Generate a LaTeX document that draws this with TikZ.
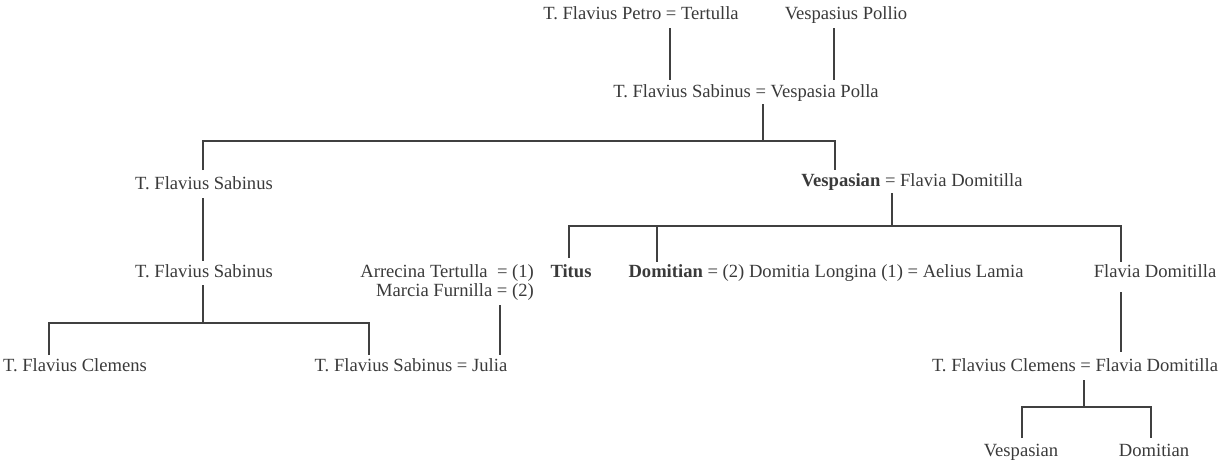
\documentclass[tikz,border=0pt]{standalone}
\usepackage{fontspec}
\setmainfont{Liberation Serif}
\definecolor{txt}{HTML}{3A3A3A}
\definecolor{ln}{HTML}{404040}
\begin{document}
\begin{tikzpicture}[x=1pt,y=-1pt,
  person/.style={inner sep=0pt,text=txt,font=\fontsize{18.6}{19}\selectfont,text height=0.68em,text depth=0.22em,yshift=-2.5pt},
  link/.style={draw=ln,line width=1.4pt},
  thin/.style={draw=ln,line width=1.1pt}]
\useasboundingbox (0,0) rectangle (1225,471);
% people
\node[person] (petro) at (641,15) {T. Flavius Petro = Tertulla};
\node[person] (pollio) at (846,15) {Vespasius Pollio};
\node[person] (sabP) at (746,93) {T. Flavius Sabinus = Vespasia Polla};
\node[person] (sab1) at (204,185) {T. Flavius Sabinus};
\node[person] (vesp) at (912,182) {\textbf{Vespasian} = Flavia Domitilla};
\node[person] (sab2) at (204,273) {T. Flavius Sabinus};
\node[person,anchor=east] (arre) at (534,273) {Arrecina Tertulla\ \ = (1)};
\node[person,anchor=east] (marc) at (534,292) {Marcia Furnilla = (2)};
\node[person] (titus) at (571,273) {\textbf{Titus}};
\node[person] (domi) at (826,273) {\textbf{Domitian} = (2) Domitia Longina (1) = Aelius Lamia};
\node[person] (flav) at (1155,273) {Flavia Domitilla};
\node[person] (clem1) at (75,367) {T. Flavius Clemens};
\node[person] (sab3) at (411,367) {T. Flavius Sabinus = Julia};
\node[person] (clem2) at (1075,367) {T. Flavius Clemens = Flavia Domitilla};
\node[person] (vesp2) at (1021,452) {Vespasian};
\node[person] (domi2) at (1154,452) {Domitian};
% junction coordinates
\coordinate (a1) at (670,28); \coordinate (a2) at (670,80);
\coordinate (b1) at (834,28); \coordinate (b2) at (834,80);
\coordinate (c1) at (763,104); \coordinate (c2) at (763,141);
\coordinate (hl) at (203,141); \coordinate (hr) at (835,141);
\coordinate (d1) at (203,170); \coordinate (d2) at (203,198); \coordinate (d3) at (203,261);
\coordinate (e1) at (835,170);
\coordinate (f1) at (892,193); \coordinate (f2) at (892,226);
\coordinate (gl) at (569,226); \coordinate (gm) at (657,226); \coordinate (gr) at (1121,226);
\coordinate (t1) at (569,258); \coordinate (t2) at (657,262); \coordinate (t3) at (1121,262);
\coordinate (m1) at (500,305); \coordinate (m2) at (500,355);
\coordinate (s1) at (203,285); \coordinate (s2) at (203,323);
\coordinate (sl) at (49,323); \coordinate (sr) at (369,323);
\coordinate (sl2) at (49,355); \coordinate (sr2) at (369,355);
\coordinate (p1) at (1121,292); \coordinate (p2) at (1121,352);
\coordinate (q1) at (1084,380); \coordinate (q2) at (1084,407);
\coordinate (ql) at (1022,407); \coordinate (qr) at (1151,407);
\coordinate (ql2) at (1022,438); \coordinate (qr2) at (1151,438);
% connectors
\draw[link] (a1) -- (a2);
\draw[link] (b1) -- (b2);
\draw[link] (c1) -- (c2);
\draw[link] (d1) -- (hl) -- (hr) -- (e1);
\draw[link] (d2) -- (d3);
\draw[link] (f1) -- (f2);
\draw[link] (t1) -- (gl) -- (gr) -- (t3);
\draw[link] (gm) -- (t2);
\draw[link] (m1) -- (m2);
\draw[link] (s1) -- (s2);
\draw[thin] (sl2) -- (sl) -- (sr) -- (sr2);
\draw[link] (p1) -- (p2);
\draw[link] (q1) -- (q2);
\draw[thin] (ql2) -- (ql) -- (qr) -- (qr2);
\end{tikzpicture}
\end{document}
